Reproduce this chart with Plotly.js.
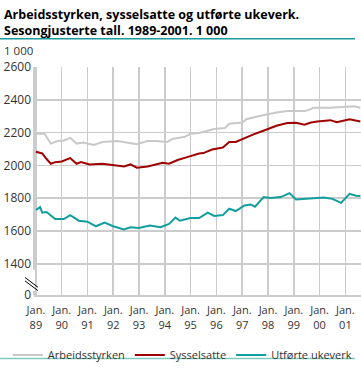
<!DOCTYPE html>
<html><head><meta charset="utf-8">
<script src="https://cdn.plot.ly/plotly-3.0.1.min.js"></script>
<style>html,body{margin:0;padding:0;background:#fff}</style>
</head><body><div id="chart" style="width:361px;height:370px"></div>
<script>
const arbDates = ['1989-01','1989-05','1989-08','1989-11','1990-02','1990-05','1990-08','1990-11','1991-04','1991-08','1992-03','1992-07','1992-12','1993-05','1993-09','1994-02','1994-05','1994-10','1995-01','1995-05','1995-07','1995-12','1996-05','1996-07','1997-01','1997-03','1997-08','1998-01','1998-05','1998-10','1999-06','1999-09','1999-10','2000-06','2001-02','2001-05','2001-08'];
const arbValues = [2193,2193,2133,2149,2152,2168,2133,2139,2125,2143,2149,2139,2129,2149,2149,2143,2163,2173,2193,2198,2204,2222,2228,2254,2262,2282,2298,2311,2323,2331,2331,2343,2351,2351,2357,2361,2351];

const sysDates = ['1989-01','1989-04','1989-06','1989-08','1989-10','1990-01','1990-05','1990-08','1990-10','1991-02','1991-08','1992-01','1992-06','1992-09','1992-12','1993-05','1993-09','1993-12','1994-03','1994-07','1994-11','1995-05','1995-07','1995-11','1996-04','1996-07','1996-10','1997-02','1997-06','1998-01','1998-05','1998-10','1999-02','1999-06','1999-09','1999-12','2000-06','2000-09','2000-12','2001-03','2001-08'];
const sysValues = [2083,2073,2039,2010,2020,2024,2045,2010,2020,2006,2010,2000,1994,2006,1986,1994,2004,2016,2010,2033,2049,2073,2075,2097,2109,2143,2143,2168,2188,2222,2242,2258,2260,2248,2262,2268,2276,2264,2272,2282,2268];

const ukeDates = ['1989-01','1989-03','1989-04','1989-06','1989-10','1990-02','1990-05','1990-09','1991-01','1991-05','1991-09','1992-01','1992-06','1992-09','1993-01','1993-06','1993-11','1994-03','1994-06','1994-08','1995-01','1995-05','1995-09','1995-12','1996-04','1996-07','1996-10','1997-02','1997-05','1997-07','1997-11','1998-02','1998-07','1998-11','1999-02','1999-07','1999-11','2000-03','2000-07','2000-11','2001-03','2001-06','2001-08'];
const ukeValues = [1728,1746,1712,1716,1673,1673,1697,1663,1657,1629,1652,1629,1609,1623,1619,1633,1623,1643,1682,1663,1679,1679,1712,1692,1697,1736,1722,1756,1762,1748,1807,1801,1807,1831,1792,1796,1801,1805,1796,1772,1827,1815,1813];

const xTickVals = ['1989-01-01','1990-01-01','1991-01-01','1992-01-01','1993-01-01','1994-01-01','1995-01-01','1996-01-01','1997-01-01','1998-01-01','1999-01-01','2000-01-01','2001-01-01'];
const xTickText = ['Jan.<br>89','Jan.<br>90','Jan.<br>91','Jan.<br>92','Jan.<br>93','Jan.<br>94','Jan.<br>95','Jan.<br>96','Jan.<br>97','Jan.<br>98','Jan.<br>99','Jan.<br>00','Jan.<br>01'];
const yTickVals = [1210,1400,1600,1800,2000,2200,2400,2600];
const yTickText = ['0','1400','1600','1800','2000','2200','2400','2600'];

const FONT = 'Open Sans, DejaVu Sans, sans-serif';
const GRID = '#cccccc';

const traces = [
  {x: arbDates, y: arbValues, name: 'Arbeidsstyrken', type: 'scatter', mode: 'lines', line: {color: '#c8c8c8', width: 2}},
  {x: sysDates, y: sysValues, name: 'Sysselsatte', type: 'scatter', mode: 'lines', line: {color: '#a00000', width: 2}},
  {x: ukeDates, y: ukeValues, name: 'Utførte ukeverk', type: 'scatter', mode: 'lines', line: {color: '#129e9e', width: 2}}
];

const layout = {
  width: 361, height: 370,
  margin: {l: 34, r: 0, t: 67, b: 69},
  paper_bgcolor: '#fff', plot_bgcolor: '#fff',
  font: {family: FONT, size: 11, color: '#333'},
  xaxis: {
    type: 'date', range: ['1988-12-05', '2001-08-10'],
    tickmode: 'array', tickvals: xTickVals, ticktext: xTickText,
    showgrid: true, gridcolor: GRID, gridwidth: 1.5,
    showline: true, linecolor: GRID, linewidth: 2,
    ticks: '', ticklabelstandoff: 4, tickfont: {size: 11, color: '#333'}, zeroline: false
  },
  yaxis: {
    range: [1210, 2600], tickmode: 'array', tickvals: yTickVals, ticktext: yTickText,
    showgrid: true, gridcolor: GRID, gridwidth: 1.5,
    showline: false, ticks: '', zeroline: false, ticklabelstandoff: 2,
    tickfont: {size: 12, color: '#333'}
  },
  showlegend: true,
  legend: {orientation: 'h', x: -0.08, xanchor: 'left', y: -0.2, yanchor: 'top',
    font: {size: 11, color: '#333'}, bgcolor: 'rgba(0,0,0,0)'},
  shapes: [
    {type: 'line', xref: 'paper', yref: 'paper', x0: 0, x1: 0, y0: 0.111, y1: 1, line: {color: GRID, width: 2}},
    {type: 'line', xref: 'paper', yref: 'paper', x0: 0, x1: 0, y0: 0, y1: 0.017, line: {color: GRID, width: 2}},
    {type: 'line', xref: 'paper', yref: 'paper', x0: -0.0275, x1: 0.012, y0: 0.077, y1: 0.034, line: {color: '#000', width: 1}},
    {type: 'line', xref: 'paper', yref: 'paper', x0: -0.0275, x1: 0.012, y0: 0.062, y1: 0.019, line: {color: '#000', width: 1}},
    {type: 'line', xref: 'paper', yref: 'paper', x0: -0.104, x1: 0.982, y0: 1.124, y1: 1.124, line: {color: '#1a9a9a', width: 1.5}},
    {type: 'line', xref: 'paper', yref: 'paper', x0: -0.104, x1: 0.982, y0: -0.278, y1: -0.278, line: {color: '#80cbbf', width: 1.5}}
  ],
  annotations: [
    {text: '<b>Arbeidsstyrken, sysselsatte og utførte ukeverk.<br>Sesongjusterte tall. 1989-2001. 1 000</b>',
      xref: 'paper', yref: 'paper', x: -0.098, y: 1.276, xanchor: 'left', yanchor: 'top', align: 'left',
      showarrow: false, font: {family: FONT, size: 12.5, color: '#000'}},
    {text: '1 000', xref: 'paper', yref: 'paper', x: -0.098, y: 1.074, xanchor: 'left', yanchor: 'middle', showarrow: false, font: {size: 11.5, color: '#333'}}
  ]
};

Plotly.newPlot('chart', traces, layout, {displayModeBar: false, staticPlot: true});
</script>
</body></html>
